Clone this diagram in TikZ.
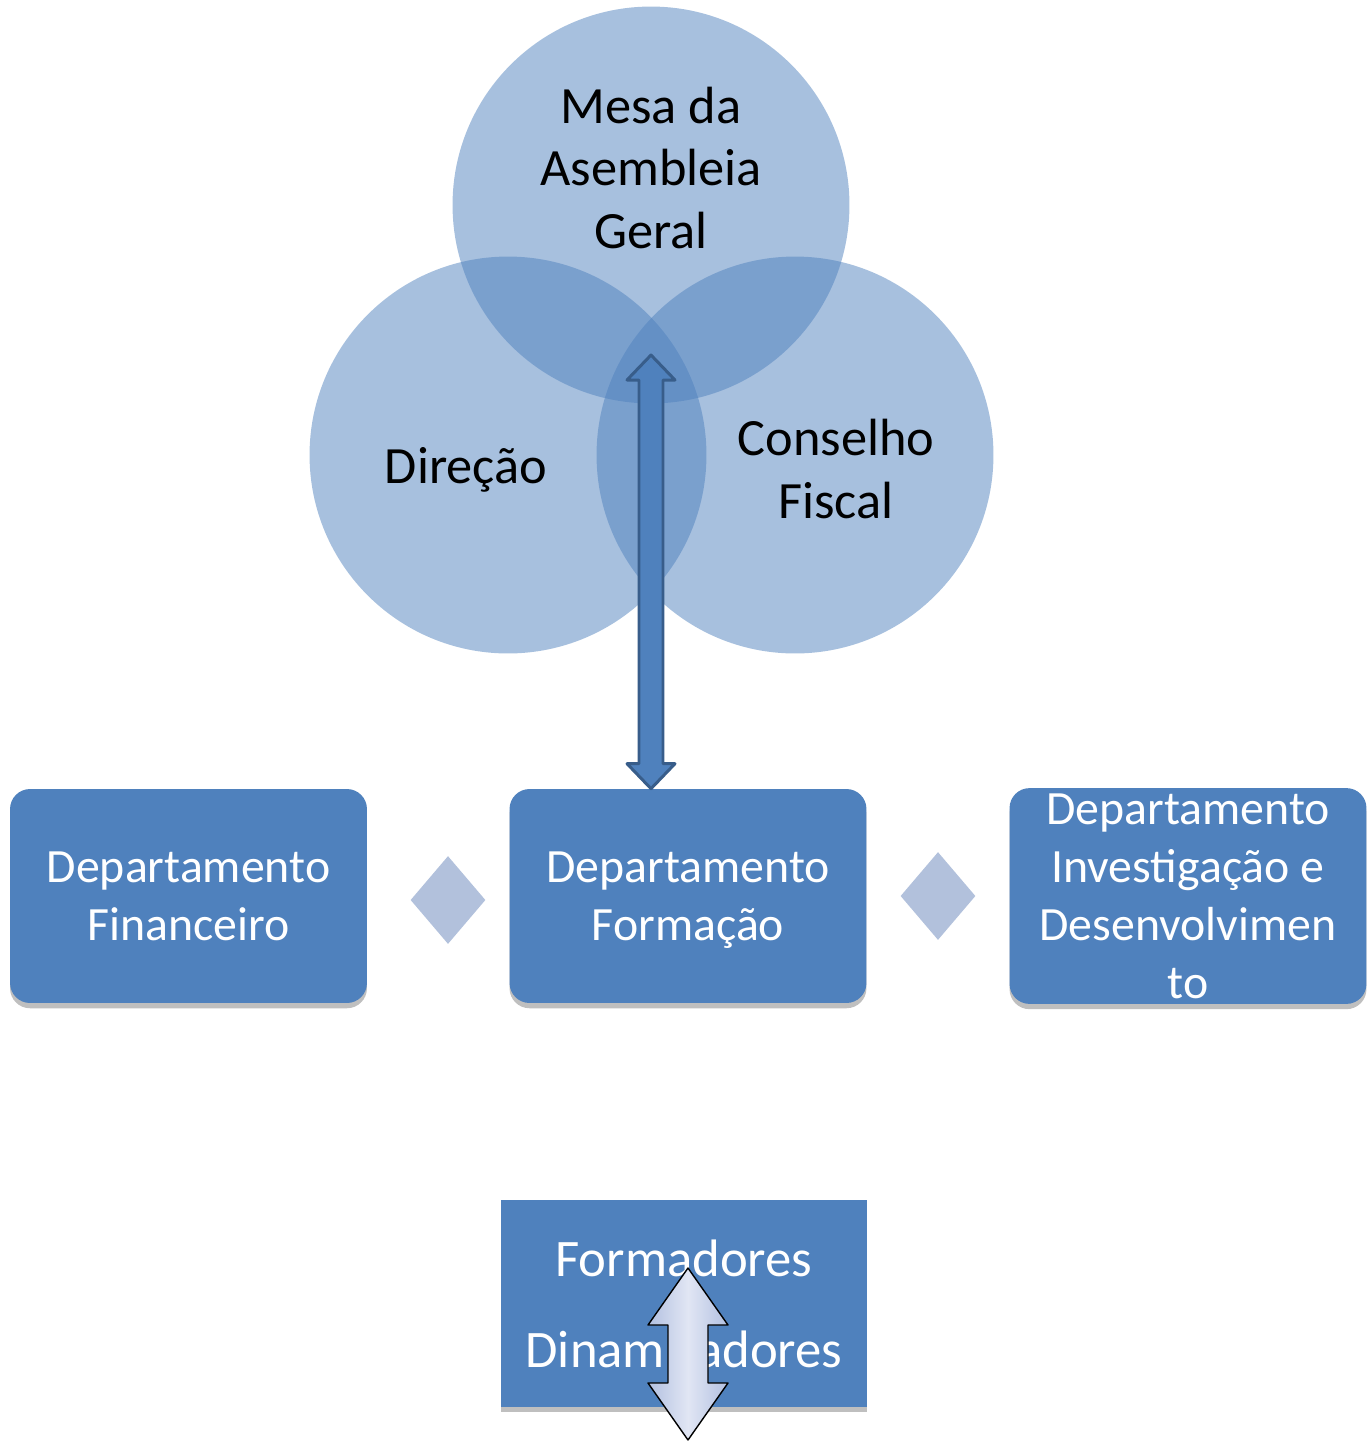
\documentclass[tikz,border=0pt]{standalone}
\usepackage{fontspec}
\setmainfont{Carlito}
\usepackage{xcolor}
\definecolor{orgblue}{RGB}{79,129,189}
\definecolor{orgdark}{RGB}{56,93,138}
\definecolor{orgdiamond}{RGB}{178,193,220}
\definecolor{orglight}{RGB}{225,230,244}
\definecolor{orglight2}{RGB}{178,192,224}
\usetikzlibrary{arrows.meta,positioning,shapes.geometric,calc,shadows}

\begin{document}
\begin{tikzpicture}[x=0.02cm,y=-0.02cm,
  venn/.style={circle,fill=orgblue,fill opacity=0.5,minimum size=7.94cm,inner sep=0pt},
  venntxt/.style={align=center,font=\fontsize{29.8}{35.7}\selectfont},
  dept/.style={fill=orgblue,rounded corners=0.4cm,minimum width=7.14cm,minimum height=4.28cm,
    align=center,text=white,text depth=0pt,font=\fontsize{27.2}{32.9}\selectfont,
    drop shadow={shadow xshift=0pt,shadow yshift=-3pt,opacity=0.25,fill=black}},
  losango/.style={diamond,fill=orgdiamond,minimum width=1.5cm,minimum height=1.76cm,inner sep=0pt},
  setaforte/.style={fill=orgblue,draw=orgdark,line width=1.7pt,line join=round},
  setaclara/.style={left color=orglight2,right color=orglight2,middle color=orglight,draw=black,line width=0.8pt,line join=round}]
  \useasboundingbox (0,0) rectangle (1372,1441);
  % circulos
  \node[venn] (mesa) at (651,205) {};
  \node[venn] (direcao) at (508,455) {};
  \node[venn] (conselho) at (795,455) {};
  \node[venntxt] (mesatxt) at ($(mesa)+(0,-37)$) {Mesa da\\Asembleia\\Geral};
  \node[venntxt] (direcaotxt) at ($(direcao)+(-42,15)$) {Direção};
  \node[venntxt] (conselhotxt) at ($(conselho)+(41,14)$) {Conselho\\Fiscal};
  % departamentos
  \node[dept] (financeiro) at (188.5,896) {Departamento\\Financeiro};
  \node[dept] (formacao) at (688,896) {Departamento\\Formação};
  \node[dept] (investigacao) at (1188,896) {Departamento\\Investigação e\\Desenvolvimen\\to};
  \node[losango] (los1) at (448,900) {};
  \node[losango] (los2) at (938,896) {};
  % seta entre orgaos e formacao
  \coordinate (topo) at (651,355);
  \coordinate (base) at (formacao.north -| topo);
  \draw[setaforte] (topo) -- ++(24,25) -- ++(-12,0) -- ($(base)+(12,-25)$) -- ++(12,0) -- (base)
    -- ++(-24,-25) -- ++(12,0) -- ($(topo)+(-12,25)$) -- ++(-12,0) -- cycle;
  % formadores
  \node[dept,sharp corners,minimum width=7.32cm,minimum height=4.14cm,font=\fontsize{30}{52}\selectfont]
    (formadores) at (684,1303.5) {Formadores\\Dinamizadores};
  \coordinate (setatopo) at (688,1268);
  \coordinate (setabase) at (688,1440);
  \draw[setaclara] (setatopo) -- ++(40,57) -- ++(-20,0) -- ($(setabase)+(20,-57)$) -- ++(20,0) -- (setabase)
    -- ++(-40,-57) -- ++(20,0) -- ($(setatopo)+(-20,57)$) -- ++(-20,0) -- cycle;
\end{tikzpicture}
\end{document}
